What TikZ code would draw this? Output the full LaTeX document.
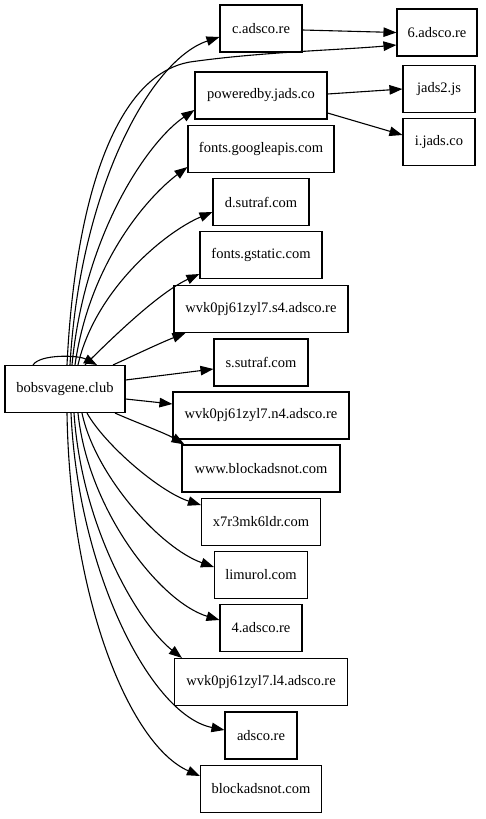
\documentclass[tikz,border=0pt]{standalone}
\usepackage{fontspec}
\setmainfont{Liberation Serif}
\usetikzlibrary{arrows.meta}
\begin{document}
\begin{tikzpicture}[x=1pt,y=-1pt,
  box/.style={draw, line width=1.1pt, minimum height=47pt, inner sep=0pt, font=\fontsize{14.5}{17}\selectfont},
  edge/.style={line width=1.1pt, -{Triangle[length=13pt,width=9.5pt]}}]
\useasboundingbox (0,0) rectangle (485,819);
% nodes
\node[box, minimum width=120pt] (bob) at (65,389) {bobsvagene.club};
\node[box, minimum width=82pt] (c) at (261,28.5) {c.adsco.re};
\node[box, minimum width=80pt] (six) at (437,32.5) {6.adsco.re};
\node[box, minimum width=132pt] (pw) at (261,95.5) {poweredby.jads.co};
\node[box, minimum width=72pt] (jtwo) at (439,89) {jads2.js};
\node[box, minimum width=72pt] (ij) at (439,142) {i.jads.co};
\node[box, minimum width=146pt] (ga) at (261,149) {fonts.googleapis.com};
\node[box, minimum width=96pt] (ds) at (261,202) {d.sutraf.com};
\node[box, minimum width=122pt] (gs) at (261,255) {fonts.gstatic.com};
\node[box, minimum width=174pt] (sfour) at (261,309) {wvk0pj61zyl7.s4.adsco.re};
\node[box, minimum width=94pt] (ss) at (261,362.5) {s.sutraf.com};
\node[box, minimum width=176pt] (nfour) at (261,415.5) {wvk0pj61zyl7.n4.adsco.re};
\node[box, minimum width=158pt] (www) at (261,468.5) {www.blockadsnot.com};
\node[box, minimum width=119pt] (xs) at (261,522) {x7r3mk6ldr.com};
\node[box, minimum width=93pt] (li) at (261,575) {limurol.com};
\node[box, minimum width=82pt] (fa) at (261,628) {4.adsco.re};
\node[box, minimum width=173pt] (lfour) at (261,682) {wvk0pj61zyl7.l4.adsco.re};
\node[box, minimum width=72pt] (ad) at (261,735.5) {adsco.re};
\node[box, minimum width=121pt] (bl) at (261,789) {blockadsnot.com};
% edges from bobsvagene.club (top)
\draw[edge] ([xshift=2pt]bob.north) .. controls (75,200) and (115,75) .. (190,62) .. controls (260,52) and (340,50) .. ([yshift=-12.5pt]six.west);
\draw[edge] ([xshift=5pt]bob.north) .. controls (80,190) and (150,60) .. ([yshift=-8.5pt]c.west);
\draw[edge] ([xshift=7pt]bob.north) .. controls (85,230) and (150,140) .. ([yshift=-14.5pt]pw.west);
\draw[edge] ([xshift=10pt]bob.north) .. controls (90,260) and (150,195) .. ([yshift=-18pt]ga.west);
\draw[edge] ([xshift=13pt]bob.north) .. controls (95,290) and (165,232) .. ([yshift=-10pt]ds.west);
\draw[edge] ([xshift=20pt]bob.north) .. controls (115,335) and (160,292) .. ([yshift=-19pt]gs.west);
\draw[edge] ([xshift=48pt]bob.north) .. controls (135,355) and (160,343) .. ([xshift=12pt]sfour.south west);
\draw[edge] ([yshift=9pt]bob.east) -- ([yshift=-6.5pt]ss.west);
\draw[edge] ([xshift=-32pt]bob.north) .. controls (40,354) and (78,355) .. ([xshift=32pt]bob.north);
% edges from bobsvagene.club (bottom)
\draw[edge] ([yshift=-10pt]bob.east) -- ([yshift=11.5pt]nfour.west);
\draw[edge] ([xshift=50pt]bob.south) .. controls (135,422) and (165,433) .. ([xshift=3pt]www.north west);
\draw[edge] ([xshift=22pt]bob.south) .. controls (105,445) and (160,492) .. ([yshift=17pt]xs.west);
\draw[edge] ([xshift=17pt]bob.south) .. controls (95,475) and (160,548) .. ([yshift=8pt]li.west);
\draw[edge] ([xshift=13pt]bob.south) .. controls (88,510) and (160,602) .. ([yshift=8pt]fa.west);
\draw[edge] ([xshift=9pt]bob.south) .. controls (82,530) and (140,625) .. ([xshift=8pt]lfour.north west);
\draw[edge] ([xshift=6pt]bob.south) .. controls (78,570) and (150,715) .. ([yshift=5.5pt]ad.west);
\draw[edge] ([xshift=2pt]bob.south) .. controls (70,600) and (130,745) .. ([yshift=13pt]bl.west);
% right-hand edges
\draw[edge] ([yshift=-1.5pt]c.east) -- (six.west);
\draw[edge] ([yshift=1.5pt]pw.east) -- (jtwo.west);
\draw[edge] ([yshift=-17.5pt]pw.east) -- ([yshift=7pt]ij.west);
\end{tikzpicture}
\end{document}
